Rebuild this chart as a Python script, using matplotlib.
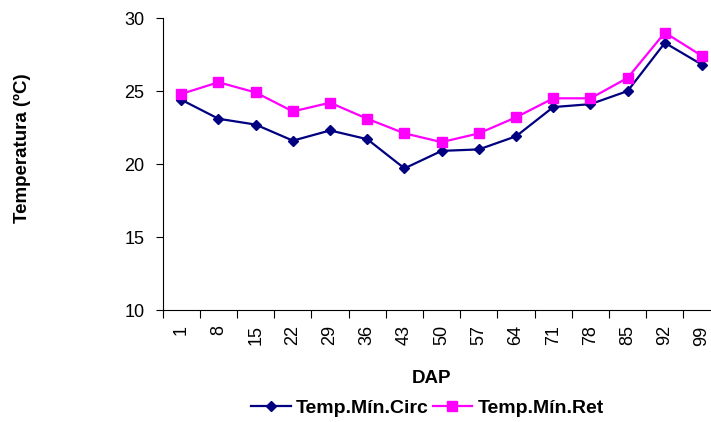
import matplotlib
matplotlib.use("Agg")
import matplotlib.pyplot as plt

plt.rcParams["font.family"] = ["Liberation Sans", "DejaVu Sans"]

# ── Data ─────────────────────────────────────────────────────────────────────
dap = ["1", "8", "15", "22", "29", "36", "43", "50", "57", "64", "71", "78", "85", "92", "99"]
temp_min_circ = [24.4, 23.1, 22.7, 21.6, 22.3, 21.7, 19.7, 20.9, 21.0, 21.9, 23.9, 24.1, 25.0, 28.3, 26.8]
temp_min_ret = [24.8, 25.6, 24.9, 23.6, 24.2, 23.1, 22.1, 21.5, 22.1, 23.2, 24.5, 24.5, 25.9, 29.0, 27.4]

fig = plt.figure(figsize=(7.11, 4.22), dpi=100)
# axis runs past the right edge of the picture, as in the original crop
ax = fig.add_axes([0.2288, 0.2654, 0.7848, 0.6919])

x = list(range(len(dap)))
ax.plot(x, temp_min_circ, color="#000080", linewidth=1.6, marker="D",
        markersize=5.5, label="Temp.Mín.Circ")
ax.plot(x, temp_min_ret, color="#FF00FF", linewidth=1.6, marker="s",
        markersize=7.8, label="Temp.Mín.Ret")

ax.set_xlim(-0.5, len(dap) - 0.5)
ax.set_ylim(10, 30)
ax.set_yticks([10, 15, 20, 25, 30])
# category boundaries carry the tick marks, labels sit in the middle
ax.set_xticks([i - 0.5 for i in range(len(dap))], minor=False)
ax.set_xticklabels([])
ax.set_xticks(x, minor=True)
ax.set_xticklabels(dap, minor=True, rotation=90, fontsize=13)
ax.tick_params(axis="x", which="major", direction="out", length=6, width=0.8)
ax.tick_params(axis="x", which="minor", length=0, pad=11)
ax.tick_params(axis="y", direction="out", length=5, width=0.8, labelsize=13, pad=8)

for side in ("top", "right"):
    ax.spines[side].set_visible(False)
for side in ("left", "bottom"):
    ax.spines[side].set_linewidth(0.8)

fig.text(0.032, 0.650, "Temperatura (ºC)", rotation=90, fontsize=13.5,
         fontweight="bold", ha="center", va="center")
fig.text(0.607, 0.104, "DAP", fontsize=13.5, fontweight="bold",
         ha="center", va="center")

fig.legend(loc="center", bbox_to_anchor=(0.601, 0.033), ncol=2, frameon=False,
           prop={"weight": "bold", "size": 14}, handlelength=2.05,
           handletextpad=0.25, columnspacing=0.2, borderaxespad=0)

fig.savefig("out.png", dpi=100)
